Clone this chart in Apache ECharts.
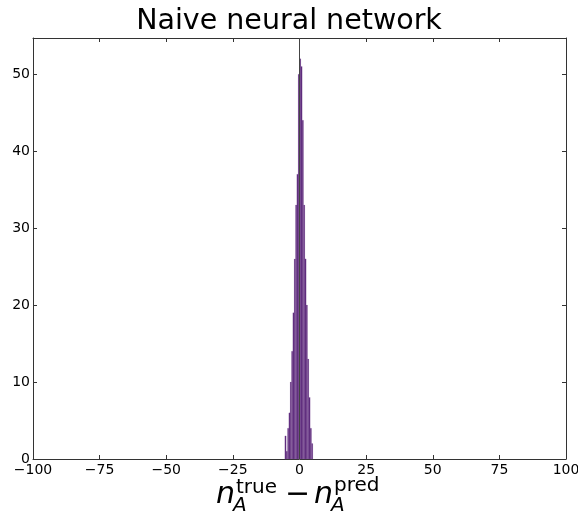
<!DOCTYPE html>
<html>
<head>
<meta charset="utf-8">
<script src="https://cdn.jsdelivr.net/npm/echarts@6/dist/echarts.min.js"></script>
<style>
  html, body { margin: 0; padding: 0; background: #fff; }
  #chart { width: 578px; height: 519px; }
</style>
</head>
<body>
<div id="chart"></div>
<script>
// histogram bins (left edge) and counts
const binWidth = 0.5
const binLeft = [-5.5, -5, -4.5, -4, -3.5, -3, -2.5, -2, -1.5, -1, -0.5, 0, 0.5, 1, 1.5, 2, 2.5, 3, 3.5, 4, 4.5]
const binCount = [3, 1, 4, 6, 10, 14, 19, 26, 33, 37, 50, 52, 51, 44, 33, 26, 20, 13, 8, 4, 2]
const xTicks = [-100, -75, -50, -25, 0, 25, 50, 75, 100]
const yTicks = [0, 10, 20, 30, 40, 50]
const yMax = 54.7
const zeroLineX = 0

const font = 'DejaVu Sans'
const chart = echarts.init(document.getElementById('chart'), null, { renderer: 'canvas' })

const histData = binLeft.map((l, i) => [l, l + binWidth, binCount[i]])

const axisCommon = {
  axisLine: { show: true, onZero: false, lineStyle: { color: '#333', width: 1 } },
  axisTick: { show: true, inside: true, length: 4, lineStyle: { color: '#333' } },
  splitLine: { show: false }
}

chart.setOption({
  animation: false,
  backgroundColor: '#fff',
  title: {
    text: 'Naive neural network',
    left: 'center',
    top: 2,
    textStyle: { fontFamily: font, fontSize: 28.5, fontWeight: 'normal', color: '#000' }
  },
  grid: { left: 33, right: 12, top: 38, bottom: 60, outerBoundsMode: 'none', containLabel: false },
  xAxis: [
    Object.assign({
      type: 'value', min: xTicks[0], max: xTicks[xTicks.length - 1], interval: 25, position: 'bottom',
      axisLabel: { fontFamily: font, fontSize: 14, color: '#000', margin: 4,
        formatter: v => (v < 0 ? '\u2212' + Math.abs(v) : String(v)) }
    }, axisCommon),
    Object.assign({
      type: 'value', min: xTicks[0], max: xTicks[xTicks.length - 1], interval: 25, position: 'top',
      axisLabel: { show: false }
    }, axisCommon)
  ],
  yAxis: [
    Object.assign({
      type: 'value', min: yTicks[0], max: yMax, interval: 10, position: 'left',
      axisLabel: { fontFamily: font, fontSize: 14, color: '#000', margin: 3,
        showMaxLabel: false }
    }, axisCommon),
    Object.assign({
      type: 'value', min: yTicks[0], max: yMax, interval: 10, position: 'right',
      axisLabel: { show: false }
    }, axisCommon)
  ],
  series: [
    {
      type: 'custom',
      xAxisIndex: 0,
      yAxisIndex: 0,
      data: histData,
      renderItem: (params, api) => {
        const p0 = api.coord([api.value(0), api.value(2)])
        const p1 = api.coord([api.value(1), 0])
        return {
          type: 'rect',
          shape: { x: p0[0], y: p0[1], width: p1[0] - p0[0], height: p1[1] - p0[1] },
          style: { fill: '#5a2677', stroke: 'rgba(150,110,175,0.6)', lineWidth: 0.3 }
        }
      }
    },
    {
      type: 'line',
      xAxisIndex: 0,
      yAxisIndex: 0,
      data: [[zeroLineX, 0], [zeroLineX, yMax]],
      symbol: 'none',
      lineStyle: { color: '#444', width: 1 },
      z: 3
    }
  ],
  graphic: [
    { type: 'text', left: 216, top: 480, style: { text: 'n', font: 'italic 30px "DejaVu Sans"', fill: '#000' } },
    { type: 'text', left: 233, top: 496, style: { text: 'A', font: 'italic 20px "DejaVu Sans"', fill: '#000' } },
    { type: 'text', left: 236, top: 478, style: { text: 'true', font: '20px "DejaVu Sans"', fill: '#000' } },
    { type: 'text', left: 285, top: 480, style: { text: '\u2212', font: '30px "DejaVu Sans"', fill: '#000' } },
    { type: 'text', left: 314, top: 480, style: { text: 'n', font: 'italic 30px "DejaVu Sans"', fill: '#000' } },
    { type: 'text', left: 331, top: 496, style: { text: 'A', font: 'italic 20px "DejaVu Sans"', fill: '#000' } },
    { type: 'text', left: 334, top: 476, style: { text: 'pred', font: '20px "DejaVu Sans"', fill: '#000' } }
  ]
})
</script>
</body>
</html>
